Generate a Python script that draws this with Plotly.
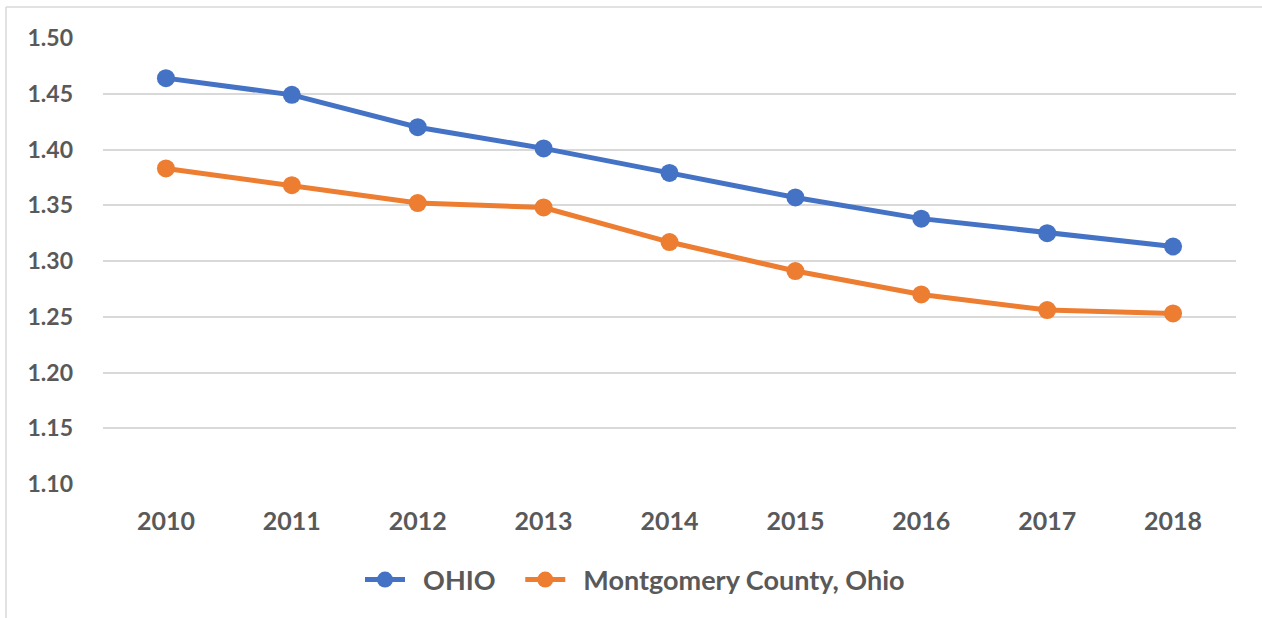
import plotly.graph_objects as go

years = ["2010", "2011", "2012", "2013", "2014", "2015", "2016", "2017", "2018"]
ohio = [1.464, 1.449, 1.420, 1.401, 1.379, 1.357, 1.338, 1.325, 1.313]
montgomery = [1.383, 1.368, 1.352, 1.348, 1.317, 1.291, 1.270, 1.256, 1.253]
y_ticks = [1.10, 1.15, 1.20, 1.25, 1.30, 1.35, 1.40, 1.45, 1.50]

W, H = 1262, 618
ml, mr, mt, mb = 103, 26, 38, 134
pw = W - ml - mr
ph = H - mt - mb

font_family = "Lato, 'Open Sans', 'Liberation Sans', sans-serif"
grey = "#595959"
nb = "\u00a0"

fig = go.Figure()
fig.add_trace(go.Scatter(
    x=years, y=ohio, name=nb * 2 + "OHIO" + nb * 3, mode="lines+markers",
    line=dict(color="#4472C4", width=5),
    marker=dict(color="#4472C4", size=18),
))
fig.add_trace(go.Scatter(
    x=years, y=montgomery, name=nb * 2 + "Montgomery County, Ohio", mode="lines+markers",
    line=dict(color="#ED7D31", width=5),
    marker=dict(color="#ED7D31", size=18),
))

# chart-area border (left and top edges visible)
x0 = (6 - ml) / pw
ytop = (H - mb - 7) / ph
fig.add_shape(type="line", xref="paper", yref="paper", x0=x0, x1=x0, y0=-1, y1=ytop,
              line=dict(color="#d9d9d9", width=1.5))
fig.add_shape(type="line", xref="paper", yref="paper", x0=x0, x1=1.2, y0=ytop, y1=ytop,
              line=dict(color="#d9d9d9", width=1.5))

fig.update_layout(
    width=W, height=H,
    margin=dict(l=ml, r=mr, t=mt, b=mb),
    paper_bgcolor="white", plot_bgcolor="white",
    font=dict(family=font_family, color=grey, size=22),
    showlegend=True,
    legend=dict(orientation="h", xref="container", yref="container",
                x=360 / W, xanchor="left", y=1 - 580 / H, yanchor="middle",
                font=dict(family=font_family, size=27, color=grey, weight="bold"),
                itemwidth=40, tracegroupgap=0),
    xaxis=dict(type="category", range=[-0.5, len(years) - 0.5],
               showgrid=False, showline=False, zeroline=False,
               ticks="", ticklen=0, ticklabelstandoff=20,
               tickfont=dict(family=font_family, size=25, color=grey, weight="bold")),
    yaxis=dict(range=[1.10, 1.50], tickvals=y_ticks,
               ticktext=[f"{v:.2f}" for v in y_ticks],
               showgrid=True, gridcolor="#d9d9d9", gridwidth=1.5,
               zeroline=False, showline=False, ticks="", ticklen=0,
               ticklabelstandoff=29,
               tickfont=dict(family=font_family, size=23, color=grey, weight="bold")),
)

fig.write_html("out.html", config={"displayModeBar": False},
               post_script="document.body.style.margin='0';")
